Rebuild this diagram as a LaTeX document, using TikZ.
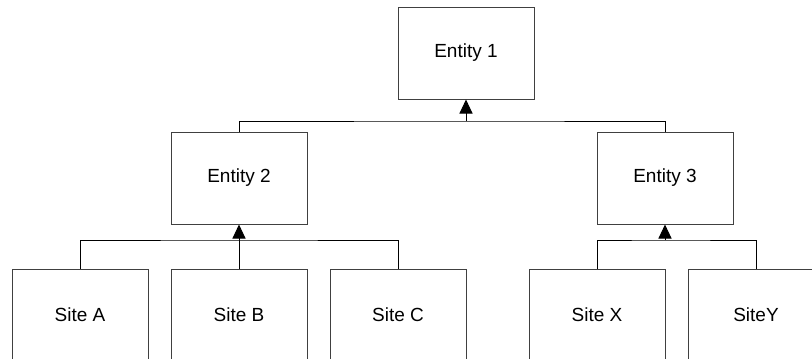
\documentclass[tikz,border=0pt]{standalone}
\usepackage{fontspec}
\setmainfont{Liberation Sans}
\usetikzlibrary{arrows.meta,positioning}

\begin{document}
\begin{tikzpicture}[
    x = 1pt, y = -1pt, % one unit per pixel, y downwards
    > = {Triangle[length=14pt,width=13pt]}, % arrow head style
    node distance = 22pt, % gap between boxes
    line width = 1pt % line style
    ]

    \tikzset{unit/.style={
    draw = black!75,
    fill = white,
    minimum width = 136pt,
    minimum height = 92pt,
    inner sep = 0pt,
    font = \fontsize{19}{22}\selectfont
    }}

    \useasboundingbox (0,0) rectangle (812,359);
    \clip (0,0) rectangle (812,359);

    % entities
    \node[unit] (e1) at (466,53) {Entity 1};
    \node[unit] (e2) at (239,178) {Entity 2};
    \node[unit] (e3) at (665,178) {Entity 3};

    % sites
    \node[unit] (sa) at (80,315) {Site A};
    \node[unit] (sb) [right=of sa] {Site B};
    \node[unit] (sc) [right=of sb] {Site C};
    \node[unit] (sx) at (597,315) {Site X};
    \node[unit] (sy) [right=of sx] {SiteY};

    % junctions
    \coordinate (j1) at (e1.south |- 0,121);
    \coordinate (j2) at (e2.south |- 0,240);
    \coordinate (j3) at (e3.south |- 0,240);

    \draw (e2.north) |- (j1) -| (e3.north);
    \draw[->] (j1) -- (e1.south);

    \draw (sa.north) |- (j2) -| (sc.north);
    \draw (sb.north) -- (j2);
    \draw[->] (j2) -- (e2.south);

    \draw (sx.north) |- (j3) -| (sy.north);
    \draw[->] (j3) -- (e3.south);
\end{tikzpicture}
\end{document}
